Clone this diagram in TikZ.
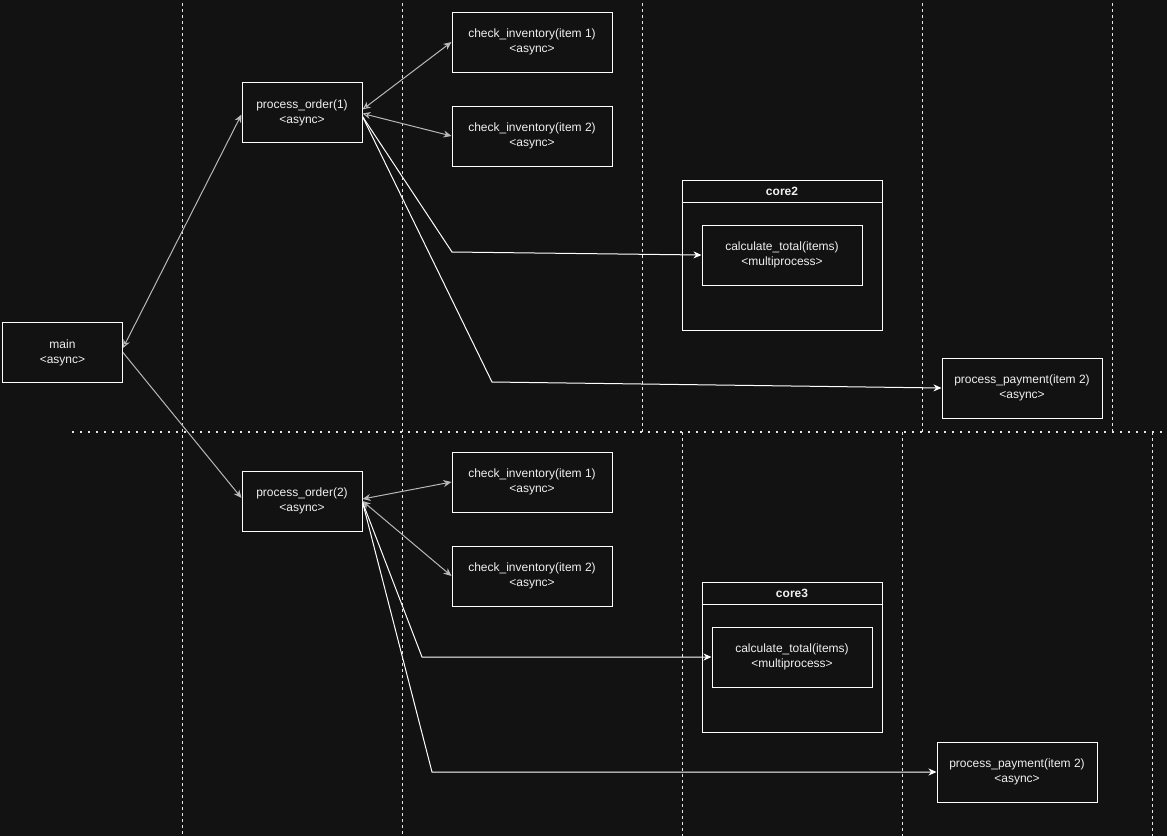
\documentclass[tikz,border=0pt]{standalone}
\usepackage{fontspec}
\setmainfont{Liberation Sans}
\usetikzlibrary{
  arrows.meta,
  calc,
  positioning
}
\definecolor{canvas}{HTML}{121212}
\definecolor{ink}{HTML}{F0F0F0}
\definecolor{wire}{HTML}{FFFFFF}
\definecolor{softwire}{HTML}{B8B8B8}
\definecolor{lane}{HTML}{E6E6E6}
\tikzset{
  font=\fontsize{12}{15}\selectfont,
  task/.style={
    draw=wire,
    line width=1pt,
    fill=canvas,
    align=center,
    text=ink,
    minimum width=120pt,
    minimum height=60pt,
    inner sep=2pt
  },
  wide task/.style={task, minimum width=160pt},
  core/.style={
    draw=wire,
    line width=1pt,
    fill=canvas,
    minimum width=200pt,
    minimum height=150pt
  },
  core label/.style={font=\fontsize{12}{15}\selectfont\bfseries, text=ink},
  lane sep/.style={draw=lane, line width=0.9pt, dash pattern=on 3pt off 3pt},
  half sep/.style={draw=lane, line width=2pt, dash pattern=on 2pt off 6pt},
  call/.style={-{Stealth[length=8pt,width=7pt,inset=2.5pt]}, draw=wire, line width=1pt},
  soft call/.style={call, draw=softwire},
  open call/.style={{Stealth[open,length=8pt,width=7pt,inset=2.5pt]}-{Stealth[length=8pt,width=7pt,inset=2.5pt]},
    draw=softwire, line width=1pt},
  duplex/.style={{Stealth[length=8pt,width=7pt,inset=2.5pt]}-{Stealth[length=8pt,width=7pt,inset=2.5pt]},
    draw=softwire, line width=1pt}
}

\begin{document}
\begin{tikzpicture}[x=1pt,y=-1pt]
  % Canvas
  \fill[canvas] (0,0) rectangle (1167,836);
  \useasboundingbox (0,0) rectangle (1167,836);

  % Lane separators
  \foreach \x in {182,402} {
    \draw[lane sep] (\x,3) -- (\x,836);
  }
  \foreach \x in {642,922,1112} {
    \draw[lane sep] (\x,3) -- (\x,432);
  }
  \foreach \x in {682,902,1152} {
    \draw[lane sep] (\x,432) -- (\x,836);
  }
  \draw[half sep] (72,432) -- (1167,432);

  % Entry point
  \node[task] (main) at (62.5,352.5) {main\\<async>};

  % First order
  \node[task] (order1) at (302,112.5) {process\_order(1)\\<async>};
  \node[wide task] (inv11) at (532,42) {check\_inventory(item 1)\\<async>};
  \node[wide task] (inv12) at (532,136) {check\_inventory(item 2)\\<async>};
  \node[core] (core2) at (782,255) {};
  \draw[draw=wire, line width=1pt] ($(core2.north west)+(0,23)$) -- ($(core2.north east)+(0,23)$);
  \node[core label] (core2label) at ($(core2.north)+(0,11.5)$) {core2};
  \node[wide task] (calc1) at (782,255) {calculate\_total(items)\\<multiprocess>};
  \node[wide task] (pay1) at (1022,388) {process\_payment(item 2)\\<async>};

  % Second order
  \node[task] (order2) at (302,501) {process\_order(2)\\<async>};
  \node[wide task] (inv21) at (532,482) {check\_inventory(item 1)\\<async>};
  \node[wide task] (inv22) at (532,576) {check\_inventory(item 2)\\<async>};
  \node[core, minimum width=180pt] (core3) at (792,657) {};
  \draw[draw=wire, line width=1pt] ($(core3.north west)+(0,23)$) -- ($(core3.north east)+(0,23)$);
  \node[core label] (core3label) at ($(core3.north)+(0,11.5)$) {core3};
  \node[wide task] (calc2) at (792,657) {calculate\_total(items)\\<multiprocess>};
  \node[wide task] (pay2) at (1017,772) {process\_payment(item 2)\\<async>};

  % Bends
  \coordinate (bend1calc) at (452,252);
  \coordinate (bend1pay) at (492,382);
  \coordinate (bend2calc) at (422,657);
  \coordinate (bend2pay) at (432,772);

  % Calls from main
  \draw[open call] ([yshift=4.5pt]main.east) -- ([yshift=-2pt]order1.west);
  \draw[soft call] (main.east) -- ([yshift=3pt]order2.west);

  % Calls from the first order
  \draw[open call] ([yshift=3pt]order1.east) -- (inv11.west);
  \draw[open call] ([yshift=-1pt]order1.east) -- (inv12.west);
  \draw[call] ([yshift=-4pt]order1.east) -- (bend1calc) -- (calc1.west);
  \draw[call] ([yshift=-4pt]order1.east) -- (bend1pay) -- (pay1.west);

  % Calls from the second order
  \draw[duplex] ([yshift=2pt]order2.east) -- (inv21.west);
  \draw[duplex] (order2.east) -- (inv22.west);
  \draw[call] ([yshift=-1pt]order2.east) -- (bend2calc) -- (calc2.west);
  \draw[call] ([yshift=-1pt]order2.east) -- (bend2pay) -- (pay2.west);
\end{tikzpicture}
\end{document}
